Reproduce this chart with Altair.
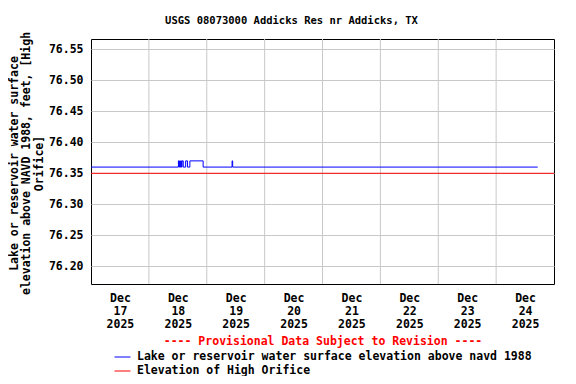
import altair as alt
import pandas as pd

# Blue series: change points (step-after), value in feet
times = [
    "2025-12-17T00:00:00Z", "2025-12-18T12:15:00Z", "2025-12-18T12:30:00Z",
    "2025-12-18T12:45:00Z", "2025-12-18T13:00:00Z", "2025-12-18T13:15:00Z",
    "2025-12-18T13:30:00Z", "2025-12-18T13:45:00Z", "2025-12-18T14:15:00Z",
    "2025-12-18T15:15:00Z", "2025-12-18T16:00:00Z", "2025-12-18T17:00:00Z",
    "2025-12-18T22:30:00Z", "2025-12-19T10:30:00Z", "2025-12-19T10:45:00Z",
    "2025-12-24T17:15:00Z",
]
values = [76.36, 76.37, 76.36, 76.37, 76.36, 76.37, 76.36, 76.37, 76.36,
          76.37, 76.36, 76.37, 76.36, 76.37, 76.36, 76.36]

orifice_elev = [76.35]

series_names = ["Lake or reservoir water surface elevation above navd 1988",
                "Elevation of High Orifice"]
series_colors = ["#0000ff", "#ff0000"]

y_ticks = [76.20, 76.25, 76.30, 76.35, 76.40, 76.45, 76.50, 76.55]
y_domain = [76.1715, 76.5665]
label_days = [17, 18, 19, 20, 21, 22, 23, 24]
grid_times = ["2025-12-18T00:00:00Z", "2025-12-19T00:00:00Z", "2025-12-20T00:00:00Z",
              "2025-12-21T00:00:00Z", "2025-12-22T00:00:00Z", "2025-12-23T00:00:00Z",
              "2025-12-24T00:00:00Z"]

FONT = "DejaVu Sans Mono"
FS = 11.5

df = pd.DataFrame({"time": times, "value": values, "series": series_names[0]})
df_or = pd.DataFrame({"value": orifice_elev, "series": series_names[1]})
df_grid = pd.DataFrame({"time": grid_times})

x_scale = alt.Scale(type="utc",
                    domain=[alt.DateTime(year=2025, month=12, date=17, utc=True),
                            alt.DateTime(year=2025, month=12, date=25, utc=True)])
y_scale = alt.Scale(domain=y_domain, zero=False, nice=False)
color_scale = alt.Scale(domain=series_names, range=series_colors)

legend = alt.Legend(
    orient="none", legendX=23, legendY=297, direction="vertical",
    title="---- Provisional Data Subject to Revision ----",
    titleColor="#ff0000", titleFont=FONT, titleFontSize=FS, titleFontWeight="bold",
    titleAnchor="middle", titleAlign="center", titlePadding=1, titleLimit=600,
    labelFont=FONT, labelFontSize=FS, labelFontWeight="bold", labelColor="black",
    symbolType="stroke", symbolSize=256, symbolStrokeWidth=1, labelOffset=6,
    rowPadding=0, labelLimit=600,
)

x_axis = alt.Axis(
    values=[alt.DateTime(year=2025, month=12, date=d, hours=12, utc=True) for d in label_days],
    labelExpr="[utcFormat(datum.value, '%b'), utcFormat(datum.value, '%d'), utcFormat(datum.value, '%Y')]",
    grid=False, ticks=False, domain=False, title=None,
    labelFont=FONT, labelFontSize=FS, labelFontWeight="bold", labelColor="black",
    labelLineHeight=13, labelPadding=8, labelBaseline="top")

y_axis = alt.Axis(values=y_ticks, format=".2f", grid=True, gridColor="#c8c8c8",
                  ticks=False, domain=False, labelPadding=8, labelOverlap=False,
                  labelFont=FONT, labelFontSize=FS, labelFontWeight="bold", labelColor="black",
                  title=["Lake or reservoir water surface",
                         "elevation above NAVD 1988, feet, [High",
                         "Orifice]"],
                  titleFont=FONT, titleFontSize=FS, titleFontWeight="bold", titleColor="black",
                  titleAngle=270, titleBaseline="top", titleAlign="center",
                  titleLineHeight=12.5, titleX=-83, titleY=124)

grid = alt.Chart(df_grid).mark_rule(color="#c8c8c8", strokeWidth=1).encode(
    x=alt.X("time:T", scale=x_scale, axis=x_axis),
)

line = alt.Chart(df).mark_line(interpolate="step-after", strokeWidth=1).encode(
    x=alt.X("time:T", scale=x_scale, axis=x_axis),
    y=alt.Y("value:Q", scale=y_scale, axis=y_axis),
    color=alt.Color("series:N", scale=color_scale, legend=legend),
)

orifice = alt.Chart(df_or).mark_rule(strokeWidth=1).encode(
    y=alt.Y("value:Q", scale=y_scale, axis=y_axis),
    color=alt.Color("series:N", scale=color_scale, legend=legend),
)

chart = alt.layer(grid, line, orifice).properties(
    width=463, height=245,
    autosize=alt.AutoSizeParams(type="none"),
    padding={"left": 83, "top": 31, "right": 14, "bottom": 92},
    background="white",
    title=alt.TitleParams("USGS 08073000 Addicks Res nr Addicks, TX", font=FONT,
                          fontSize=10.5, fontWeight="bold", color="black",
                          anchor="middle", dx=-31, offset=5),
).configure_view(stroke="black", strokeWidth=1)

chart.save("out.html", embed_options={"renderer": "svg", "actions": False})
